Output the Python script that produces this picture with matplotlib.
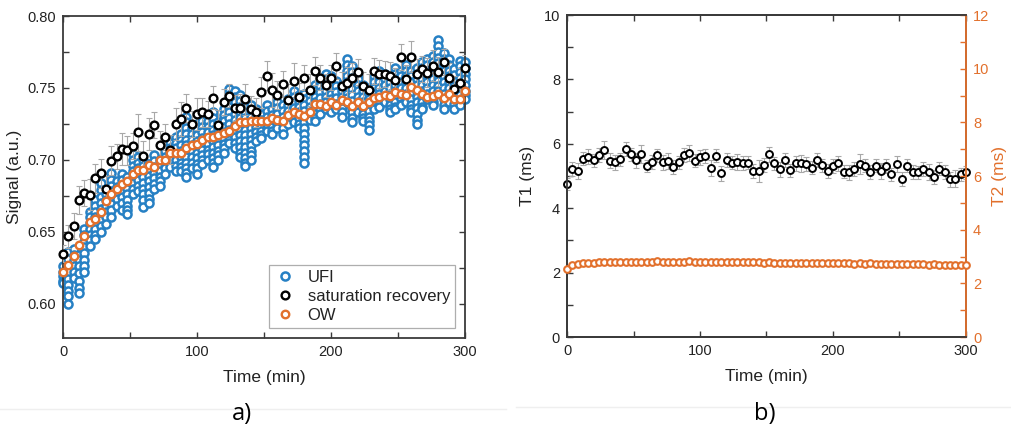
import matplotlib
matplotlib.use("Agg")
import matplotlib.pyplot as plt
from matplotlib.ticker import MultipleLocator
from matplotlib.lines import Line2D

plt.rcParams['font.family'] = ['Liberation Sans', 'DejaVu Sans']

# time axis: one measurement every 4 min
time_min = list(range(0, 301, 4))

# UFI repetitions per time point (signal x 1000)
ufi_k = [
    [626, 622, 619, 616, 614],
    [636, 631, 626, 622, 617, 613, 609, 605, 600],
    [638, 634, 630, 626, 622, 618],
    [634, 630, 626, 621, 616, 611, 607],
    [652, 648, 643, 639, 635, 630, 626, 622],
    [664, 660, 656, 652, 648, 644, 640],
    [672, 668, 664, 660, 656, 652, 648, 645],
    [684, 679, 674, 670, 666, 662, 658, 654, 650],
    [676, 672, 668, 664, 660, 655],
    [691, 686, 682, 678, 674, 669, 665, 660],
    [685, 681, 677, 673, 668],
    [690, 686, 682, 678, 674, 670, 665],
    [688, 684, 680, 676, 672, 668, 665, 662],
    [704, 700, 696, 692, 688, 684, 680, 676],
    [702, 698, 694, 690, 686, 682, 678],
    [700, 696, 692, 688, 684, 680, 676, 672, 667],
    [697, 693, 689, 685, 681, 677, 673, 670],
    [703, 699, 695, 691, 687, 683, 680],
    [700, 696, 692, 688, 685, 682],
    [706, 702, 698, 694, 690],
    [712, 708, 704, 700, 695],
    [716, 712, 708, 704, 700, 696, 692],
    [718, 714, 710, 706, 702, 698, 695, 692],
    [730, 726, 722, 718, 714, 710, 706, 702, 698, 694, 691, 688],
    [722, 718, 714, 710, 706, 702, 698, 694],
    [725, 721, 717, 713, 709, 705, 701, 697, 694, 690],
    [727, 723, 719, 715, 711, 707, 703, 700, 697],
    [731, 727, 723, 719, 715, 711, 707, 704, 700],
    [733, 729, 725, 721, 717, 713, 709, 705, 701, 698, 695],
    [726, 722, 718, 714, 710, 706, 703, 700],
    [735, 731, 727, 723, 719, 715, 711, 708, 705],
    [749, 745, 741, 737, 733, 729, 725, 721, 717, 714, 712],
    [748, 744, 740, 736, 732, 728, 724, 720, 716, 712, 708],
    [745, 741, 737, 733, 729, 725, 721, 717, 713, 709, 705, 702],
    [733, 729, 725, 721, 717, 713, 709, 705, 701, 698, 696],
    [738, 734, 730, 726, 722, 718, 714, 710, 706, 703, 700],
    [735, 731, 727, 723, 719, 716, 713],
    [732, 728, 724, 720, 717, 715],
    [738, 734, 730, 726, 722, 720],
    [735, 731, 727, 723, 720, 718],
    [740, 736, 732, 728, 725, 722],
    [738, 734, 730, 726, 722, 718],
    [742, 738, 734, 730, 727, 725],
    [748, 744, 740, 736, 732, 729, 726],
    [745, 741, 737, 733, 729, 725, 722],
    [746, 742, 738, 734, 730, 726, 722, 718, 714, 710, 706, 702, 698],
    [745, 741, 737, 733, 730, 728],
    [752, 748, 744, 740, 736, 732, 729, 727],
    [755, 751, 747, 743, 739, 735, 732],
    [760, 756, 752, 748, 744, 740, 737, 735],
    [758, 754, 750, 746, 742, 738, 735, 733],
    [755, 751, 747, 743, 739, 736, 735],
    [752, 748, 744, 740, 736, 733, 730],
    [770, 766, 762, 758, 754, 750, 746, 743, 740],
    [765, 761, 757, 753, 749, 745, 741, 737, 733, 729, 726],
    [760, 756, 752, 748, 744, 740, 736, 733],
    [752, 748, 744, 740, 736, 732, 729, 727],
    [750, 746, 742, 738, 734, 730, 727, 724, 721],
    [758, 754, 750, 746, 742, 738, 735],
    [762, 758, 754, 750, 746, 742, 739, 737],
    [760, 756, 752, 748, 744, 741, 740],
    [758, 754, 750, 746, 742, 738, 735, 733],
    [764, 760, 756, 752, 748, 744, 740, 737, 735],
    [762, 758, 754, 750, 746, 742, 739, 738],
    [766, 762, 758, 754, 750, 746, 743, 740],
    [762, 758, 754, 750, 746, 742, 738, 735, 733],
    [764, 760, 756, 752, 748, 744, 740, 736, 732, 728, 725],
    [768, 764, 760, 756, 752, 748, 744, 740, 737, 735],
    [770, 766, 762, 758, 754, 750, 746, 742],
    [772, 768, 764, 760, 756, 752, 748, 744, 740, 738],
    [783, 779, 775, 771, 767, 763, 759, 755, 751, 748],
    [774, 770, 766, 762, 758, 754, 750, 746, 742, 738, 735],
    [770, 766, 762, 758, 754, 750, 746, 742, 740],
    [763, 759, 755, 751, 747, 743, 739, 735],
    [769, 765, 761, 757, 753, 749, 745, 741, 738],
    [768, 764, 760, 756, 752, 748, 745, 742],
]

satrec = [0.6347, 0.6468, 0.6537, 0.672, 0.677, 0.6757, 0.687, 0.6907, 0.6796, 0.6993,
          0.7023, 0.7076, 0.7065, 0.7093, 0.719, 0.7028, 0.718, 0.724, 0.710, 0.7157,
          0.707, 0.725, 0.7285, 0.736, 0.7248, 0.732, 0.733, 0.7317, 0.743, 0.7243,
          0.740, 0.7447, 0.736, 0.736, 0.742, 0.7354, 0.733, 0.7468, 0.7586, 0.7486,
          0.7451, 0.7528, 0.7417, 0.755, 0.7435, 0.7572, 0.7486, 0.7618, 0.7572, 0.752,
          0.7572, 0.7653, 0.751, 0.7537, 0.7572, 0.7609, 0.751, 0.7486, 0.762, 0.7597,
          0.7597, 0.7583, 0.7556, 0.7713, 0.756, 0.7718, 0.760, 0.7632, 0.7606, 0.7655,
          0.7613, 0.7678, 0.757, 0.749, 0.7537, 0.7637]
satrec_err = [0.006, 0.008, 0.009, 0.010, 0.009, 0.011, 0.010, 0.010, 0.009, 0.010,
              0.009, 0.011, 0.010, 0.009, 0.013, 0.010, 0.011, 0.009, 0.010, 0.009,
              0.010, 0.011, 0.012, 0.010, 0.009, 0.011, 0.010, 0.009, 0.008, 0.010,
              0.009, 0.008, 0.009, 0.010, 0.011, 0.009, 0.010, 0.011, 0.010, 0.012,
              0.010, 0.009, 0.011, 0.012, 0.010, 0.009, 0.011, 0.010, 0.009, 0.008,
              0.009, 0.009, 0.010, 0.011, 0.010, 0.009, 0.010, 0.011, 0.009, 0.010,
              0.009, 0.010, 0.008, 0.009, 0.010, 0.011, 0.010, 0.009, 0.010, 0.011,
              0.010, 0.009, 0.010, 0.009, 0.010, 0.009]

ow = [0.622, 0.627, 0.633, 0.641, 0.647, 0.657, 0.659, 0.664, 0.671, 0.676,
      0.680, 0.683, 0.685, 0.690, 0.693, 0.693, 0.6965, 0.695, 0.6995, 0.6995,
      0.705, 0.705, 0.705, 0.708, 0.710, 0.711, 0.7135, 0.7155, 0.7155, 0.717,
      0.7185, 0.720, 0.7236, 0.726, 0.7266, 0.727, 0.727, 0.727, 0.727, 0.729,
      0.728, 0.727, 0.731, 0.7335, 0.732, 0.7305, 0.7335, 0.739, 0.739, 0.7375,
      0.7405, 0.738, 0.7417, 0.7405, 0.7375, 0.7405, 0.7375, 0.7405, 0.743, 0.744,
      0.745, 0.7447, 0.747, 0.7456, 0.745, 0.7505, 0.7486, 0.7456, 0.744, 0.7447,
      0.7458, 0.743, 0.7456, 0.742, 0.742, 0.7475]

t1 = [4.76, 5.21, 5.16, 5.54, 5.60, 5.49, 5.65, 5.82, 5.48, 5.42,
      5.52, 5.83, 5.68, 5.49, 5.69, 5.31, 5.44, 5.65, 5.42, 5.47,
      5.28, 5.42, 5.65, 5.72, 5.47, 5.58, 5.62, 5.25, 5.63, 5.08,
      5.49, 5.41, 5.44, 5.41, 5.41, 5.16, 5.15, 5.34, 5.67, 5.39,
      5.21, 5.51, 5.18, 5.39, 5.39, 5.37, 5.26, 5.49, 5.34, 5.16,
      5.32, 5.39, 5.13, 5.11, 5.23, 5.37, 5.32, 5.13, 5.32, 5.15,
      5.32, 5.06, 5.37, 4.92, 5.32, 5.13, 5.11, 5.23, 5.13, 4.97,
      5.23, 5.13, 4.90, 4.92, 5.06, 5.11]
t1_err = [0.18, 0.22, 0.25, 0.20, 0.24, 0.20, 0.22, 0.28, 0.24, 0.22,
          0.20, 0.22, 0.20, 0.23, 0.28, 0.20, 0.22, 0.20, 0.22, 0.24,
          0.22, 0.20, 0.22, 0.24, 0.20, 0.24, 0.22, 0.26, 0.20, 0.22,
          0.22, 0.20, 0.24, 0.22, 0.20, 0.22, 0.34, 0.22, 0.22, 0.20,
          0.24, 0.22, 0.20, 0.22, 0.26, 0.22, 0.20, 0.22, 0.20, 0.22,
          0.22, 0.24, 0.20, 0.22, 0.22, 0.30, 0.20, 0.22, 0.20, 0.24,
          0.22, 0.20, 0.24, 0.22, 0.20, 0.22, 0.20, 0.22, 0.24, 0.22,
          0.20, 0.22, 0.24, 0.26, 0.20, 0.20]

t2 = [2.55, 2.67, 2.73, 2.76, 2.77, 2.77, 2.78, 2.78, 2.79, 2.79,
      2.80, 2.80, 2.80, 2.81, 2.80, 2.81, 2.80, 2.82, 2.81, 2.81,
      2.81, 2.81, 2.81, 2.82, 2.81, 2.80, 2.80, 2.80, 2.80, 2.80,
      2.79, 2.79, 2.79, 2.79, 2.78, 2.78, 2.78, 2.77, 2.78, 2.77,
      2.77, 2.77, 2.77, 2.77, 2.77, 2.76, 2.76, 2.75, 2.75, 2.75,
      2.74, 2.75, 2.74, 2.74, 2.73, 2.74, 2.73, 2.74, 2.73, 2.73,
      2.72, 2.73, 2.72, 2.72, 2.71, 2.72, 2.71, 2.71, 2.70, 2.71,
      2.70, 2.70, 2.70, 2.70, 2.70, 2.70]

BLUE = '#2680c4'
ORANGE = '#e2702c'
ERRC = '#a8a8a8'
SPINE = '#3a3a3a'
TXT = '#222222'

fig = plt.figure(figsize=(10.12, 4.34), dpi=100)
axL = fig.add_axes([0.0623, 0.2212, 0.3972, 0.7419])
axR = fig.add_axes([0.5603, 0.2235, 0.3942, 0.7419])


def style_axes(ax, right=True):
    for s in ax.spines.values():
        s.set_color(SPINE)
        s.set_linewidth(1.3)
    ax.tick_params(which='both', direction='in', top=True, right=right,
                   color=SPINE, labelcolor=TXT, labelsize=10.5, pad=5)
    ax.tick_params(which='major', length=4, width=1)
    ax.tick_params(which='minor', length=4, width=1)


# ---- panel a ----
ufi_x = []
ufi_y = []
for t, vals in zip(time_min, ufi_k):
    for v in vals:
        ufi_x.append(t)
        ufi_y.append(v / 1000)

axL.plot(ufi_x, ufi_y, 'o', ms=5.8, mfc='white', mec=BLUE, mew=1.8,
         ls='none', label='UFI', clip_on=False, zorder=2)
axL.errorbar(time_min, satrec, yerr=satrec_err, fmt='none', ecolor=ERRC,
             elinewidth=0.8, capsize=2.5, capthick=0.8, zorder=3)
axL.plot(time_min, satrec, 'o', ms=5.6, mfc='white', mec='black', mew=1.7,
         ls='none', label='saturation recovery', zorder=4, clip_on=False)
axL.plot(time_min, ow, 'o', ms=5.4, mfc='white', mec=ORANGE, mew=1.7,
         ls='none', label='OW', zorder=5, clip_on=False)

axL.set_xlim(0, 300)
axL.set_ylim(0.576, 0.80)
axL.xaxis.set_major_locator(MultipleLocator(100))
axL.xaxis.set_minor_locator(MultipleLocator(50))
axL.yaxis.set_major_locator(MultipleLocator(0.05))
axL.yaxis.set_minor_locator(MultipleLocator(0.025))
axL.yaxis.set_major_formatter(matplotlib.ticker.FormatStrFormatter('%.2f'))
style_axes(axL)
axL.set_xlabel('Time (min)', fontsize=12.5, labelpad=8, color=TXT)
axL.set_ylabel('Signal (a.u.)', fontsize=12.5, labelpad=4, color=TXT)

leg = axL.legend(loc='lower right', fontsize=12, frameon=True, fancybox=False,
                 edgecolor='#9a9a9a', borderpad=0.3, handletextpad=0.7,
                 labelspacing=0.25, handlelength=1.3, borderaxespad=0.6)
leg.get_frame().set_linewidth(0.9)
for txt in leg.get_texts():
    txt.set_color(TXT)

# ---- panel b ----
axT2 = axR.twinx()
axR.errorbar(time_min, t1, yerr=t1_err, fmt='none', ecolor=ERRC,
             elinewidth=0.8, capsize=2.5, capthick=0.8, zorder=3)
axR.plot(time_min, t1, 'o', ms=5.0, mfc='white', mec='black', mew=1.4,
         ls='none', zorder=4, clip_on=False)
axT2.plot(time_min, t2, 'o', ms=4.8, mfc='white', mec=ORANGE, mew=1.5,
          ls='none', zorder=4, clip_on=False)

axR.set_xlim(0, 300)
axR.set_ylim(0, 10)
axT2.set_ylim(0, 12)
axR.xaxis.set_major_locator(MultipleLocator(100))
axR.xaxis.set_minor_locator(MultipleLocator(50))
axR.yaxis.set_major_locator(MultipleLocator(2))
axR.yaxis.set_minor_locator(MultipleLocator(1))
axT2.yaxis.set_major_locator(MultipleLocator(2))
axT2.yaxis.set_minor_locator(MultipleLocator(1))
style_axes(axR, right=False)
for s in axT2.spines.values():
    s.set_color(SPINE)
    s.set_linewidth(1.3)
axT2.spines['right'].set_color(ORANGE)
axT2.tick_params(which='both', direction='in', color=ORANGE, labelcolor=ORANGE,
                 labelsize=10.5, length=4, width=1, pad=5)
axR.set_xlabel('Time (min)', fontsize=12.5, labelpad=8, color=TXT)
axR.set_ylabel('T1 (ms)', fontsize=12.5, labelpad=6, color=TXT)
axT2.set_ylabel('T2 (ms)', fontsize=12.5, color=ORANGE, labelpad=2)

# panel letters and faint separators
fig.add_artist(Line2D([0.0, 0.5], [0.058, 0.058], color='#efefef', lw=1))
fig.add_artist(Line2D([0.51, 1.0], [0.063, 0.063], color='#efefef', lw=1))
fig.text(0.239, 0.045, 'a)', fontsize=17, ha='center', va='center', family='Open Sans')
fig.text(0.756, 0.045, 'b)', fontsize=17, ha='center', va='center', family='Open Sans')

fig.savefig('out.png', dpi=100)
